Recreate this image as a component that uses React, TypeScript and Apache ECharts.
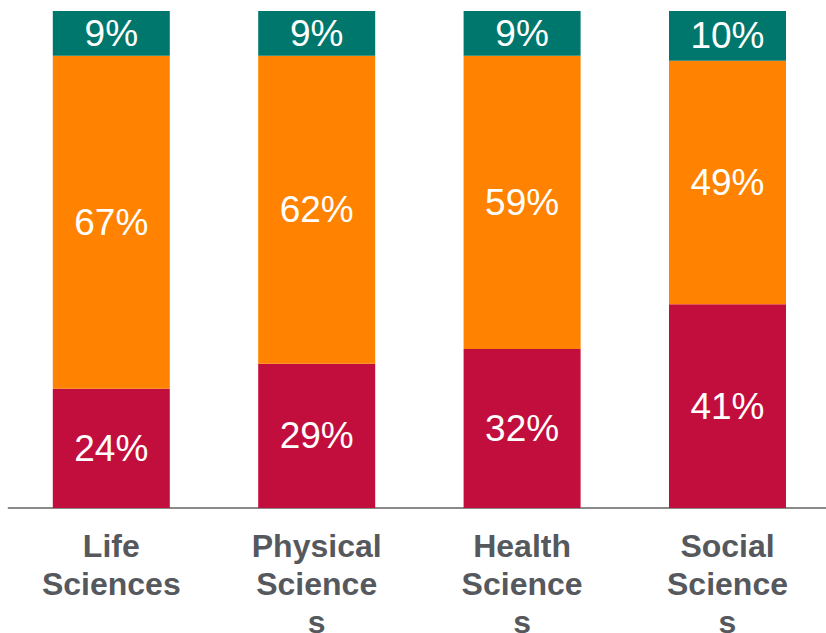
import React, { useEffect, useRef } from "react";
import * as echarts from "echarts";

const categories = ["Life\nSciences", "Physical\nScience\ns", "Health\nScience\ns", "Social\nScience\ns"];
const bottomValues = [24, 29, 32, 41];
const middleValues = [67, 62, 59, 49];
const topValues = [9, 9, 9, 10];

const FONT = "'Liberation Sans', Arial, Helvetica, sans-serif";

export default function App() {
  const ref = useRef<HTMLDivElement>(null);
  useEffect(() => {
    if (!ref.current) return;
    const chart = echarts.init(ref.current, null, { renderer: "svg", width: 826, height: 633 });
    const label = {
      show: true,
      position: "inside",
      formatter: "{c}%",
      color: "#ffffff",
      fontSize: 37,
      fontFamily: FONT,
    };
    chart.setOption({
      animation: false,
      backgroundColor: "#ffffff",
      grid: { left: 8.6, right: -4.2, top: 11, bottom: 125, containLabel: false, outerBoundsMode: "none" },
      xAxis: {
        type: "category",
        data: categories,
        axisTick: { show: false },
        axisLine: { lineStyle: { color: "#8a8a8a", width: 2 } },
        axisLabel: {
          color: "#55585d",
          fontSize: 32,
          fontWeight: "bold",
          fontFamily: FONT,
          lineHeight: 38,
          margin: 19,
          interval: 0,
        },
      },
      yAxis: { type: "value", min: 0, max: 100, show: false, splitLine: { show: false } },
      series: [
        { type: "bar", stack: "s", data: bottomValues, barWidth: 117, itemStyle: { color: "#c20e3c" }, label },
        { type: "bar", stack: "s", data: middleValues, barWidth: 117, itemStyle: { color: "#ff8200" }, label },
        { type: "bar", stack: "s", data: topValues, barWidth: 117, itemStyle: { color: "#00776d" }, label },
      ],
    });
    return () => chart.dispose();
  }, []);
  return <div ref={ref} style={{ position: "fixed", left: 0, top: 0, width: 826, height: 633, overflow: "hidden" }} />;
}
